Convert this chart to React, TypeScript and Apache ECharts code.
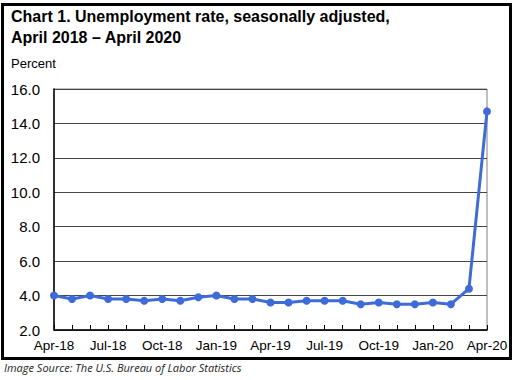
import React, { useEffect, useRef } from "react";
import * as echarts from "echarts";

const categories = [
  "Apr-18", "May-18", "Jun-18", "Jul-18", "Aug-18", "Sep-18", "Oct-18", "Nov-18", "Dec-18",
  "Jan-19", "Feb-19", "Mar-19", "Apr-19", "May-19", "Jun-19", "Jul-19", "Aug-19", "Sep-19",
  "Oct-19", "Nov-19", "Dec-19", "Jan-20", "Feb-20", "Mar-20", "Apr-20",
];
const unemploymentRate = [
  4.0, 3.8, 4.0, 3.8, 3.8, 3.7, 3.8, 3.7, 3.9,
  4.0, 3.8, 3.8, 3.6, 3.6, 3.7, 3.7, 3.7, 3.5,
  3.6, 3.5, 3.5, 3.6, 3.5, 4.4, 14.7,
];
const yMin = 2;
const yMax = 16;
const yInterval = 2;

export default function App() {
  const ref = useRef<HTMLDivElement>(null);
  useEffect(() => {
    document.body.style.margin = "0";
    const chart = echarts.init(ref.current!, null, { renderer: "svg" });
    chart.setOption({
      animation: false,
      backgroundColor: "#ffffff",
      graphic: [
        {
          type: "rect",
          shape: { x: 2.5, y: 4.5, width: 508, height: 354 },
          style: { fill: "none", stroke: "#000", lineWidth: 3 },
          silent: true,
        },
        {
          type: "text",
          left: 11,
          top: 6,
          style: {
            text: "Chart 1. Unemployment rate, seasonally adjusted,\nApril 2018 \u2013 April 2020",
            font: "bold 16px 'Liberation Sans', Arial, sans-serif",
            fill: "#000",
            lineHeight: 21,
          },
        },
        {
          type: "text",
          left: 11,
          top: 57,
          style: {
            text: "Percent",
            font: "13px 'Liberation Sans', Arial, sans-serif",
            fill: "#000",
          },
        },
        {
          type: "text",
          left: 4,
          top: 362,
          style: {
            text: "Image Source: The U.S. Bureau of Labor Statistics",
            font: "italic 11px 'Open Sans', sans-serif",
            fill: "#222",
          },
        },
      ],
      grid: {
        left: 54,
        right: 30,
        top: 89,
        bottom: 50,
        show: true,
        borderColor: "#808080",
        borderWidth: 1,
      },
      xAxis: {
        type: "category",
        data: categories,
        boundaryGap: false,
        axisLine: { lineStyle: { color: "#000", width: 1.5 } },
        axisTick: { inside: true, length: 5, interval: 0, lineStyle: { color: "#000" } },
        axisLabel: {
          interval: 2,
          color: "#000",
          fontSize: 13.5,
          fontFamily: "'Liberation Sans', Arial, sans-serif",
          margin: 8,
        },
        splitLine: { show: false },
      },
      yAxis: {
        type: "value",
        min: yMin,
        max: yMax,
        interval: yInterval,
        axisLine: { show: true, lineStyle: { color: "#000", width: 1.5 } },
        axisTick: { show: false },
        axisLabel: {
          color: "#000",
          fontSize: 15,
          fontFamily: "'Liberation Sans', Arial, sans-serif",
          margin: 14,
          formatter: (v: number) => v.toFixed(1),
        },
        splitLine: { lineStyle: { color: "#444", width: 1 } },
      },
      series: [
        {
          type: "line",
          data: unemploymentRate,
          symbol: "circle",
          symbolSize: 8,
          lineStyle: { color: "#3F6BD9", width: 3 },
          itemStyle: { color: "#3F6BD9" },
        },
      ],
    });
    return () => chart.dispose();
  }, []);
  return <div ref={ref} style={{ width: 517, height: 380 }} />;
}
